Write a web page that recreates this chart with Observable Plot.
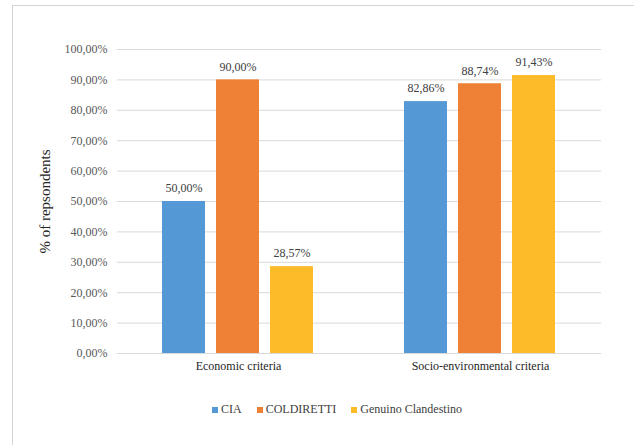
<!DOCTYPE html>
<html>
<head>
<meta charset="utf-8">
<script src="https://cdn.jsdelivr.net/npm/d3@7"></script>
<script src="https://cdn.jsdelivr.net/npm/@observablehq/plot@0.6"></script>
<style>
  html, body { margin: 0; padding: 0; background: #ffffff; }
  #frame {
    position: absolute; left: 12px; top: 5px; width: 640px; height: 460px;
    border: 1px solid #d4d4d4; box-sizing: border-box;
  }
  #chart { position: absolute; left: 0; top: 0; }
  #chart svg text { font-family: "Liberation Serif", "DejaVu Serif", serif; }
  #legend {
    position: absolute; left: 212px; top: 402px;
    display: flex; align-items: center;
    font-family: "Liberation Serif", "DejaVu Serif", serif; font-size: 12px; color: #404040;
  }
  #legend .item { display: flex; align-items: center; margin-right: 15px; }
  #legend .sw { width: 6px; height: 6px; margin-right: 3px; }
</style>
</head>
<body>
<div id="frame"></div>
<div id="chart"></div>
<div id="legend"></div>
<script>
// Share of respondents by criterion and organisation
const categories = ["Economic criteria", "Socio-environmental criteria"];
const series = ["CIA", "COLDIRETTI", "Genuino Clandestino"];
const cia = [50.00, 82.86];
const coldiretti = [90.00, 88.74];
const genuino = [28.57, 91.43];
const yTicks = [0, 10, 20, 30, 40, 50, 60, 70, 80, 90, 100];
const colors = ["#5499D6", "#EF8137", "#FDBB2A"];

const values = [cia, coldiretti, genuino];
const rows = [];
categories.forEach((c, i) => {
  series.forEach((s, j) => rows.push({category: c, series: s, value: values[j][i]}));
});

// Italian-style decimal comma
const locale = d3.formatLocale({decimal: ",", thousands: ".", grouping: [3], currency: ["", "€"]});
const pct = v => locale.format(".2f")(v) + "%";

const chart = Plot.plot({
  width: 634,
  height: 380,
  marginLeft: 117,
  marginRight: 33,
  marginTop: 49,
  marginBottom: 27,
  style: {fontFamily: "Liberation Serif", fontSize: "12px", color: "#595959", background: "transparent"},
  fx: {domain: categories, padding: 0, label: null, axis: "bottom", tickSize: 0, tickPadding: 8},
  x: {domain: series, paddingInner: 0.2, paddingOuter: 0.84, axis: null},
  y: {
    domain: [0, 100], ticks: yTicks, tickFormat: pct, tickSize: 0, tickPadding: 10,
    label: "% of repsondents", labelAnchor: "center", labelOffset: 78, labelArrow: "none"
  },
  color: {domain: series, range: colors},
  marks: [
    Plot.gridY(yTicks, {stroke: "#d9d9d9", strokeOpacity: 1, strokeWidth: 1}),
    Plot.barY(rows, {fx: "category", x: "series", y: "value", fill: "series"}),
    Plot.text(rows, {fx: "category", x: "series", y: "value", text: d => pct(d.value), dy: -13, fill: "#404040"})
  ]
});

const yLabel = chart.querySelector('[aria-label="y-axis label"]');
if (yLabel) { yLabel.style.fontSize = "15px"; yLabel.setAttribute("fill", "#262626"); }
const fxAxis = chart.querySelector('[aria-label="fx-axis tick label"]');
if (fxAxis) fxAxis.setAttribute("fill", "#262626");
document.getElementById("chart").appendChild(chart);

const legend = document.getElementById("legend");
series.forEach((s, j) => {
  const item = document.createElement("div");
  item.className = "item";
  const sw = document.createElement("span");
  sw.className = "sw";
  sw.style.background = colors[j];
  const label = document.createElement("span");
  label.textContent = s;
  item.appendChild(sw);
  item.appendChild(label);
  legend.appendChild(item);
});
</script>
</body>
</html>
